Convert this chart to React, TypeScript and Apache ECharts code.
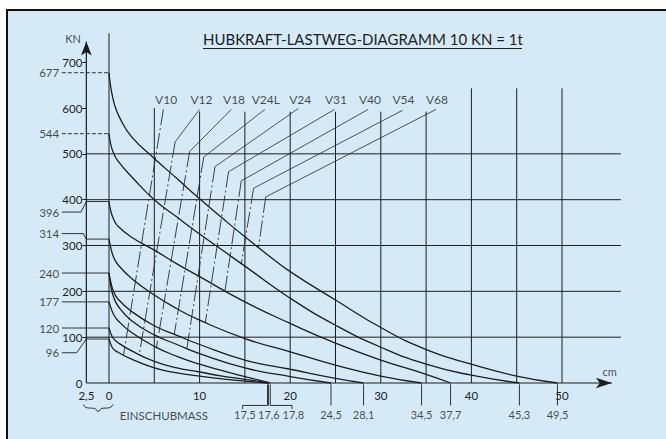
import React, { useEffect, useRef } from 'react';
import * as echarts from 'echarts';

// ---------------- data ----------------
const titleText = 'HUBKRAFT-LASTWEG-DIAGRAMM 10 KN = 1t';
const bagNames = ['V10', 'V12', 'V18', 'V24L', 'V24', 'V31', 'V40', 'V54', 'V68'];
const liftForceKN = [96, 120, 177, 240, 240, 314, 396, 544, 677];
const maxStrokeCm = [17.5, 17.6, 17.8, 28.1, 24.5, 34.5, 37.7, 45.3, 49.5];

// force (KN) over stroke (cm), one curve per lifting bag
const curveV10 = [[0, 96], [0.2, 84], [0.5, 74], [1, 67], [2.5, 52], [5, 33], [7.5, 22], [10, 15], [12.5, 9], [15, 4], [17.5, 0]];
const curveV12 = [[0, 120], [0.2, 108], [0.5, 97], [1, 88], [2.5, 70], [5, 47], [7.5, 33], [10, 24], [12.5, 15], [15, 8], [17.6, 0]];
const curveV18 = [[0, 177], [0.2, 165], [0.5, 150], [1, 136], [2.5, 110], [5, 80], [7.5, 58], [10, 41], [12.5, 27], [15, 14], [17.8, 0]];
const curveV24L = [[0, 240], [0.2, 220], [0.5, 200], [1, 183], [2.5, 156], [5, 125], [7.5, 104], [10, 84], [15, 50], [20, 30], [25, 10], [28.1, 0]];
const curveV24 = [[0, 240], [0.2, 212], [0.5, 188], [1, 168], [2.5, 136], [5, 105], [7.5, 84], [10, 64], [15, 33], [20, 14], [24.5, 0]];
const curveV31 = [[0, 314], [0.2, 295], [0.5, 275], [1, 258], [2.5, 228], [5, 192], [7.5, 162], [10, 137], [15, 97], [20, 68], [25, 39], [30, 15], [34.5, 0]];
const curveV40 = [[0, 396], [0.2, 375], [0.5, 358], [1, 342], [2.5, 318], [5, 290], [7.5, 260], [10, 232], [15, 177], [20, 130], [25, 87], [30, 50], [35, 19], [37.7, 0]];
const curveV54 = [[0, 544], [0.2, 520], [0.5, 502], [1, 484], [2.5, 450], [5, 400], [7.5, 362], [10, 325], [12.5, 290], [15, 255], [20, 185], [25, 126], [30, 78], [35, 41], [40, 17], [45.3, 0]];
const curveV68 = [[0, 677], [0.2, 645], [0.6, 608], [1.2, 578], [2.5, 537], [5, 490], [7.5, 446], [10, 402], [12.5, 360], [15, 319], [17.5, 280], [20, 243], [25, 181], [30, 121], [35, 73], [40, 41], [45, 15], [49.5, 0]];
const curves = [curveV10, curveV12, curveV18, curveV24L, curveV24, curveV31, curveV40, curveV54, curveV68];

// V-lines: label foot -> knee -> point on own curve
const vLabelX = [6.3, 10.2, 13.8, 17.3, 21.1, 25.05, 28.8, 32.5, 36.2];
const vLabelY = 619;
const vLeaderTop = [[6.0, 597], [10.0, 597], [13.5, 597], [17.2, 597], [20.9, 599], [24.9, 597], [28.6, 597], [32.4, 595], [36.1, 597]];
const vKnee = [[6.0, 597], [7.3, 526], [8.9, 505], [10.46, 493], [11.7, 472], [13.2, 461], [14.6, 441], [15.96, 425], [17.3, 406]];
const vFoot = [[1.6, 61], [3.35, 63], [5.24, 78], [7.2, 106], [8.6, 76], [10.64, 133], [12.8, 201], [14.6, 260], [16.5, 296]];

// axes
const xTickValues = [-2.5, 0, 10, 20, 30, 40, 50];
const yTickValues = [0, 100, 200, 300, 400, 500, 600, 700];
const gridVerticalX = [0, 5, 10, 15, 20, 25, 30, 35, 40, 45, 50];
const gridVerticalTop = [763, 600, 592, 592, 592, 592, 592, 592, 643, 643, 643];
const gridHorizontalY = [100, 200, 300, 400, 500];

// marked start forces on the left
const markedForces = [677, 544, 396, 314, 240, 177, 120, 96];
const markedLabelY = [677, 544, 373, 326, 240, 177, 120, 66];
const markedBendX = [NaN, NaN, -3.1, -2.84, NaN, NaN, NaN, -3.57];

// stroke end marks below the axis
const strokeMarks = [17.5, 17.6, 17.8, 24.5, 28.1, 34.5, 37.7, 45.3, 49.5];
const strokeLabelX = [15.0, 17.65, 20.35, 24.5, 28.1, 34.5, 37.7, 45.3, 49.5];
const strokeBracketX = [14.75, NaN, 20.2, NaN, NaN, NaN, NaN, NaN, NaN];

// ---------------- chart ----------------
const FONT = 'Lato, "DejaVu Sans", sans-serif';
const INK = '#1d1d1f';

const X_MIN = -6;
const X_MAX = 56.5;
const Y_MAX = 765;
const X_AXIS_ORIGIN = -2.5; // the force axis stands at -2.5 cm
const X_ARROW_AT = 55.5;
const Y_ARROW_AT = 745;
const LEFT_LINE_START = -5.2;
const LEFT_LABEL_RIGHT = -5.5;

// layout in pixels (666 x 439 canvas): 9.06 px/cm, 0.4583 px/KN
const PX_PER_CM = 9.06;
const GRID_LEFT = 109 + X_MIN * PX_PER_CM;
const GRID_RIGHT = 666 - (109 + X_MAX * PX_PER_CM);
const GRID_BOTTOM = 439 - 383;
const GRID_TOP = 383 - Y_MAX * 0.4583;
const Y_AXIS_OFFSET = -(X_AXIS_ORIGIN - X_MIN) * PX_PER_CM;

type Pt = any[];

function seg(points: Pt[], o: any = {}) {
  return {
    type: 'line',
    data: points,
    symbol: 'none',
    showSymbol: false,
    clip: false,
    silent: true,
    animation: false,
    smooth: o.smooth ?? false,
    z: o.z ?? 2,
    lineStyle: { color: o.color ?? INK, width: o.width ?? 1, type: o.type ?? 'solid', opacity: 1 },
  };
}

function arrowAxis(from: number[], to: number[], rotate: number, size: number[]) {
  return {
    type: 'line',
    silent: true,
    animation: false,
    clip: false,
    z: 4,
    showSymbol: true,
    showAllSymbol: true,
    data: [
      { value: from, symbol: 'none' },
      { value: to, symbol: 'arrow', symbolSize: size, symbolRotate: rotate },
    ],
    itemStyle: { color: INK },
    lineStyle: { color: INK, width: 1.2 },
  };
}

function texts(items: [number, number, string][], label: any = {}) {
  return {
    type: 'scatter',
    symbolSize: 0,
    clip: false,
    silent: true,
    animation: false,
    z: 5,
    data: items.map(([x, y, t]) => ({ value: [x, y], name: t })),
    label: {
      show: true,
      formatter: '{b}',
      position: 'inside',
      align: 'center',
      verticalAlign: 'middle',
      color: INK,
      fontFamily: FONT,
      fontSize: 11.5,
      ...label,
    },
  };
}

function fmt(v: number) {
  return String(v).replace('.', ',');
}

function buildOption() {
  const series: any[] = [];

  // axes lines with arrows
  series.push(arrowAxis([X_AXIS_ORIGIN, 0], [X_ARROW_AT, 0], -90, [8, 16]));
  series.push(arrowAxis([X_AXIS_ORIGIN, 0], [X_AXIS_ORIGIN, Y_ARROW_AT], 0, [8, 14]));

  // grid lines
  gridVerticalX.forEach((x, i) => series.push(seg([[x, 0], [x, gridVerticalTop[i]]], { width: 1 })));
  gridHorizontalY.forEach((y) => series.push(seg([[X_AXIS_ORIGIN, y], [X_MAX, y]], { width: 1 })));

  // marked start forces (leaders to the x = 0 line)
  markedForces.forEach((f, i) => {
    const ly = markedLabelY[i];
    const bx = markedBendX[i];
    const pts: Pt[] = isNaN(bx)
      ? [[LEFT_LINE_START, f], [0, f]]
      : [[LEFT_LINE_START, ly], [bx, ly], [X_AXIS_ORIGIN, f], [0, f]];
    series.push(seg(pts, { width: 0.9, type: i < 2 ? [4, 2] : 'solid' }));
  });

  // curves
  curves.forEach((c) => series.push(seg(c, { smooth: 0.5, width: 1.3, z: 3 })));

  // V lines
  bagNames.forEach((_, i) => {
    series.push(seg([vLeaderTop[i], vKnee[i]], { width: 0.8, color: '#2a2a2e' }));
    series.push(seg([vKnee[i], vFoot[i]], { width: 0.9, type: [16, 3, 2, 3], color: '#2a2a2e' }));
  });

  // stroke end leaders below axis
  strokeMarks.forEach((s, i) => {
    const bx = strokeBracketX[i];
    const pts: Pt[] = isNaN(bx) ? [[s, -3], [s, -49]] : [[s, -3], [s, -49], [bx, -49], [bx, -57]];
    series.push(seg(pts, { width: 0.9 }));
  });

  // brace under "2,5 0"
  series.push(seg([[-2.85, -47], [-2.45, -54], [-1.6, -55.5], [-1.2, -62], [-0.8, -55.5], [0.05, -54], [0.45, -47]], { smooth: 0.5, width: 0.9 }));

  // texts
  series.push(texts(bagNames.map((n, i) => [vLabelX[i], vLabelY, n] as [number, number, string]), { fontSize: 12 }));
  series.push(
    texts(
      markedForces.map((f, i) => [LEFT_LABEL_RIGHT, markedLabelY[i], String(f)] as [number, number, string]),
      { align: 'right' }
    )
  );
  series.push(texts(strokeMarks.map((s, i) => [strokeLabelX[i], -68, fmt(s)] as [number, number, string]), { fontSize: 11 }));
  series.push(texts([[1.2, -70, 'EINSCHUBMASS']], { align: 'left', fontSize: 11.5 }));
  series.push(texts([[-3.97, 752, 'KN']], { fontSize: 11 }));
  series.push(texts([[55.27, 24.6, 'cm']], { fontSize: 11 }));

  const axisText = { color: INK, fontFamily: FONT, fontSize: 11.5 };

  return {
    animation: false,
    backgroundColor: 'transparent',
    grid: { left: GRID_LEFT, right: GRID_RIGHT, top: GRID_TOP, bottom: GRID_BOTTOM, containLabel: false },
    xAxis: {
      type: 'value',
      min: X_MIN,
      max: X_MAX,
      axisLine: { show: false, onZero: false },
      axisTick: { show: false },
      axisLabel: {
        customValues: xTickValues,
        formatter: (v: number) => (v < 0 ? fmt(-v) : String(v)),
        margin: 6,
        ...axisText,
      },
      splitLine: { show: false },
    },
    yAxis: {
      type: 'value',
      min: 0,
      max: Y_MAX,
      position: 'left',
      offset: Y_AXIS_OFFSET,
      axisLine: { show: false, onZero: false },
      axisTick: {
        show: true,
        length: 4,
        customValues: yTickValues.slice(1),
        lineStyle: { color: INK, width: 1 },
      },
      axisLabel: { customValues: yTickValues, margin: 4, ...axisText },
      splitLine: { show: false },
    },
    graphic: [
      {
        type: 'text',
        left: 203,
        top: 31,
        silent: true,
        style: { text: titleText, font: `15px ${FONT}`, fill: INK },
      },
      {
        type: 'line',
        silent: true,
        shape: { x1: 203, y1: 48.5, x2: 522, y2: 48.5 },
        style: { stroke: INK, lineWidth: 1.2 },
      },
    ],
    series,
  };
}

export default function App() {
  const ref = useRef<HTMLDivElement>(null);
  useEffect(() => {
    if (!ref.current) return;
    const chart = echarts.init(ref.current, null, { renderer: 'svg' });
    chart.setOption(buildOption() as any);
    return () => chart.dispose();
  }, []);
  return (
    <div style={{ position: 'fixed', left: 0, top: 0, width: 666, height: 439, background: '#ffffff', overflow: 'hidden' }}>
      <div
        style={{
          position: 'absolute',
          left: 6,
          top: 9,
          right: 0,
          bottom: 0,
          background: '#d5eaf6',
          borderTop: '2px solid #111',
          borderLeft: '2px solid #111',
        }}
      />
      <div ref={ref} style={{ position: 'absolute', left: 0, top: 0, width: 666, height: 439 }} />
    </div>
  );
}
